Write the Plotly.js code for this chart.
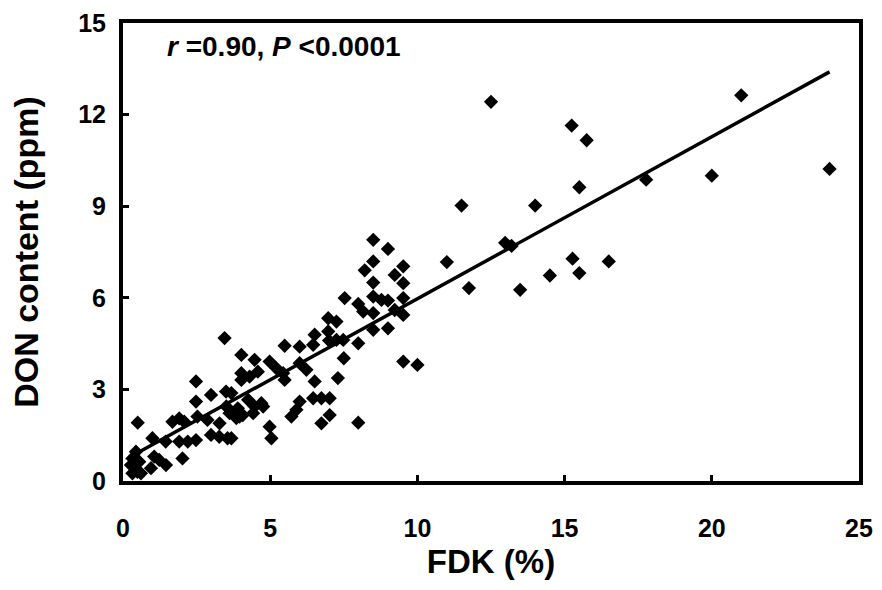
<!DOCTYPE html>
<html>
<head>
<meta charset="utf-8">
<script src="https://cdn.plot.ly/plotly-3.0.1.min.js"></script>
<style>html,body{margin:0;padding:0;background:#fff;}#chart{width:882px;height:590px;}</style>
</head>
<body>
<div id="chart"></div>
<script>
// FDK (%) values of each sample
const fdk = [
  0.27,0.32,0.32,0.44,0.49,0.55,0.61,0.50,0.95,1.00,1.06,1.23,1.46,1.45,1.68,1.91,2.08,1.91,2.20,2.48,2.02,2.53,2.48,2.48,
  2.87,2.99,3.50,2.99,3.27,3.55,3.28,3.45,3.51,3.73,3.96,3.68,3.62,3.85,4.07,3.90,3.68,4.02,4.47,4.02,4.30,4.58,4.02,4.25,4.47,4.76,4.42,4.70,4.98,4.98,5.04,
  5.21,5.44,5.49,5.49,6.00,6.00,6.23,6.51,6.46,6.51,6.97,7.00,7.25,6.97,7.25,6.46,6.74,7.02,6.00,5.89,5.72,7.02,6.74,7.30,7.50,
  7.53,7.99,8.16,8.50,8.50,8.78,9.00,9.52,9.23,9.52,9.00,8.50,7.48,7.99,9.52,10.00,7.99,8.50,9.00,8.50,8.21,9.52,9.23,9.52,8.50,
  11.00,11.75,11.50,12.50,12.98,13.20,14.00,13.49,14.50,15.24,15.75,15.50,15.27,15.50,16.50,17.77,20.00,21.00,24.00
];
// DON content (ppm) of each sample
const don = [
  0.52,0.25,0.74,0.96,0.30,0.63,0.25,1.91,0.42,1.40,0.80,0.69,0.52,1.29,1.94,2.05,1.94,1.29,1.29,1.34,0.74,2.11,2.60,3.26,
  2.00,2.82,2.93,1.51,1.45,1.40,1.89,4.68,2.44,2.22,2.11,2.88,2.22,2.06,2.16,2.38,1.40,4.13,3.97,3.53,3.42,3.58,3.31,2.66,2.44,2.44,2.22,2.55,3.91,1.78,1.40,
  3.69,3.53,3.31,4.43,4.40,3.86,3.64,3.26,4.46,4.79,4.90,4.60,4.62,5.33,5.22,2.71,2.71,2.71,2.60,2.33,2.11,2.16,1.89,3.37,4.02,
  5.99,5.80,5.55,5.50,6.04,5.93,5.91,5.99,5.60,5.44,5.00,4.95,4.62,4.51,3.91,3.80,1.91,7.90,7.60,7.19,6.90,7.03,6.75,6.48,6.50,
  7.17,6.32,9.02,12.42,7.80,7.70,9.02,6.26,6.73,11.64,11.16,9.62,7.28,6.81,7.19,9.87,10.00,12.63,10.22
];
// regression line end points
const fitX = [0.3, 24.0];
const fitY = [0.82, 13.4];
const xTicks = [0, 5, 10, 15, 20, 25];
const yTicks = [0, 3, 6, 9, 12, 15];
const statText = '<i>r</i> =0.90, <i>P</i> <0.0001';

const fontFam = 'Liberation Sans, Arial, sans-serif';
const traces = [
  {x: fdk, y: don, type: 'scatter', mode: 'markers',
   marker: {symbol: 'diamond', size: 11, color: '#000'}, hoverinfo: 'x+y'},
  {x: fitX, y: fitY, type: 'scatter', mode: 'lines',
   line: {color: '#000', width: 3.5}, hoverinfo: 'skip'}
];
const axisCommon = {
  showgrid: false, zeroline: false, showline: true, linecolor: '#000', linewidth: 4,
  mirror: true, ticks: 'inside', ticklen: 6, tickwidth: 3, tickcolor: '#000',
  tickfont: {family: fontFam, size: 25, color: '#000', weight: 'bold'}
};
const layout = {
  width: 882, height: 590,
  margin: {l: 123, r: 23, t: 23, b: 109},
  paper_bgcolor: '#fff', plot_bgcolor: '#fff',
  showlegend: false,
  xaxis: Object.assign({}, axisCommon, {
    range: [0, 25], tickvals: xTicks, ticktext: xTicks.map(String),
    ticklabelstandoff: 22,
    title: {text: 'FDK (%)', font: {family: fontFam, size: 33, color: '#000', weight: 'bold'}, standoff: 10}
  }),
  yaxis: Object.assign({}, axisCommon, {
    range: [0, 15], tickvals: yTicks, ticktext: yTicks.map(String),
    ticklabelstandoff: 8,
    title: {text: 'DON content (ppm)', font: {family: fontFam, size: 34, color: '#000', weight: 'bold'}, standoff: 30}
  }),
  annotations: [{
    text: statText, xref: 'paper', yref: 'paper', x: 0.057, y: 0.948,
    xanchor: 'left', yanchor: 'middle', showarrow: false,
    font: {family: fontFam, size: 28, color: '#000', weight: 'bold'}
  }]
};
Plotly.newPlot('chart', traces, layout, {displayModeBar: false, staticPlot: true});
</script>
</body>
</html>
